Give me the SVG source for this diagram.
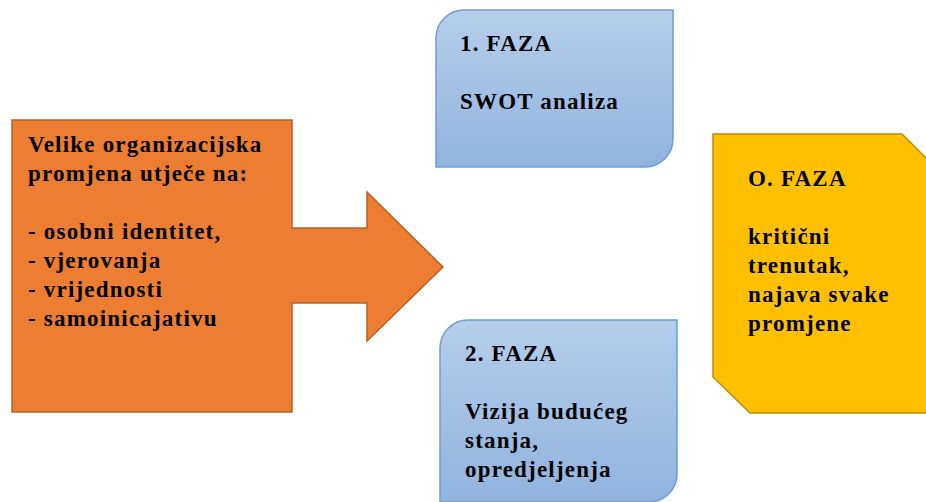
<svg xmlns="http://www.w3.org/2000/svg" width="926" height="502" viewBox="0 0 926 502">
<defs>
<linearGradient id="blue" x1="0" y1="0" x2="0" y2="1">
<stop offset="0" stop-color="#B5CEEB"/>
<stop offset="1" stop-color="#90B4DF"/>
</linearGradient>
</defs>
<rect width="926" height="502" fill="#fff"/>
<g font-family="Liberation Serif" font-weight="bold" font-size="23" letter-spacing="1.2" fill="#000">
<g id="cause">
<path d="M12,120 H292 V228 H367 V192 L443,267 L367,341 V303 H292 V412 H12 Z" fill="#ED7D31" stroke="#B4612A" stroke-width="1.5"/>
<text x="28" y="152">Velike organizacijska</text>
<text x="28" y="181">promjena utječe na:</text>
<text x="28" y="239">- osobni identitet,</text>
<text x="28" y="268">- vjerovanja</text>
<text x="28" y="297">- vrijednosti</text>
<text x="28" y="326">- samoinicajativu</text>
</g>
<g id="faza1">
<path d="M464,10 H673 V139 A28,28 0 0 1 645,167 H436 V38 A28,28 0 0 1 464,10 Z" fill="url(#blue)" stroke="#6A9FD6" stroke-width="1.5"/>
<text x="460" y="51">1. FAZA</text>
<text x="460" y="109">SWOT analiza</text>
</g>
<g id="faza2">
<path d="M468,320 H677 V474 A28,28 0 0 1 649,502 H440 V348 A28,28 0 0 1 468,320 Z" fill="url(#blue)" stroke="#6A9FD6" stroke-width="1.5"/>
<text x="465" y="361">2. FAZA</text>
<text x="465" y="419">Vizija budućeg</text>
<text x="465" y="448">stanja,</text>
<text x="465" y="477">opredjeljenja</text>
</g>
<g id="faza0">
<path d="M713,134 H902 L939,171 V413 H750 L713,377 Z" fill="#FFC000" stroke="#BC8C0A" stroke-width="1.5"/>
<text x="748" y="186">O. FAZA</text>
<text x="748" y="244">kritični</text>
<text x="748" y="273">trenutak,</text>
<text x="748" y="302">najava svake</text>
<text x="748" y="331">promjene</text>
</g>
</g>
<g id="connectors"></g>
</svg>
